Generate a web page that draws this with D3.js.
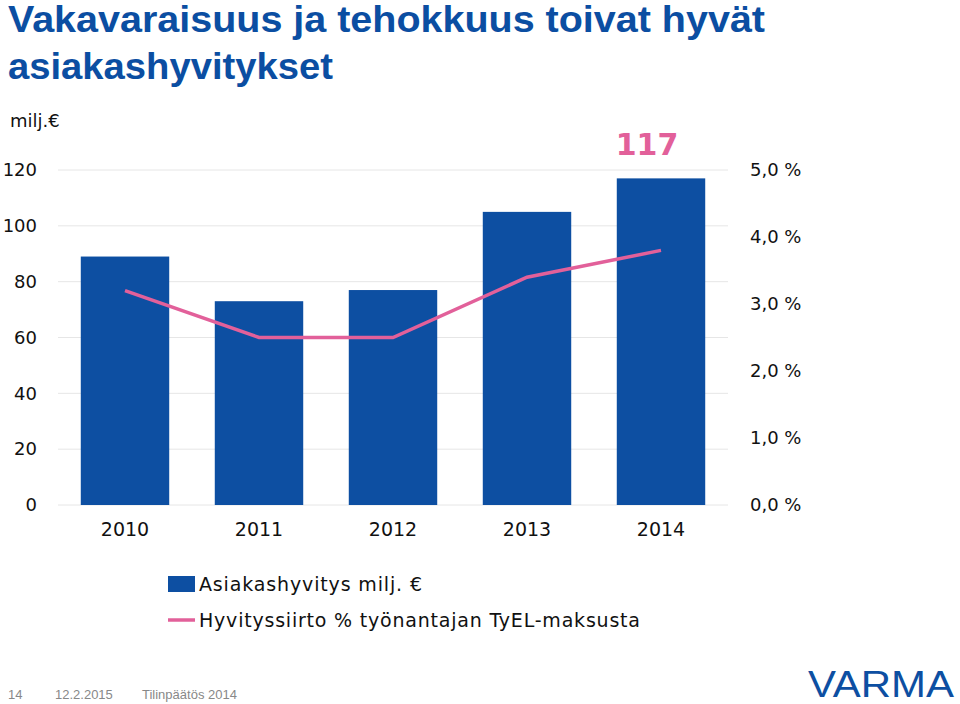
<!DOCTYPE html><html><head><meta charset="utf-8">
<script src="https://cdn.jsdelivr.net/npm/d3@7"></script>
<style>body{margin:0;background:#fff}</style></head><body>
<svg id="c" width="960" height="704"></svg>
<script>
const years=["2010","2011","2012","2013","2014"];
const refunds=[89,73,77,105,117];
const pct=[3.2,2.5,2.5,3.4,3.8];
const leftTicks=[0,20,40,60,80,100,120];
const rightTicks=[0,1,2,3,4,5];
const blue="#0d4fa2",pink="#e2609a",font="DejaVu Sans";
const svg=d3.select("#c");
svg.append("text").attr("x",8).attr("y",32).attr("font-family","Liberation Sans").attr("font-weight","bold").attr("font-size",37).attr("fill","#0b4ea2").attr("textLength",757).attr("lengthAdjust","spacingAndGlyphs").text("Vakavaraisuus ja tehokkuus toivat hyvät");
svg.append("text").attr("x",8).attr("y",79).attr("font-family","Liberation Sans").attr("font-weight","bold").attr("font-size",37).attr("fill","#0b4ea2").attr("textLength",325).attr("lengthAdjust","spacingAndGlyphs").text("asiakashyvitykset");
svg.append("text").attr("x",10).attr("y",127).attr("font-family",font).attr("font-size",18).attr("fill","#111").text("milj.€");
const x=d3.scaleBand().domain(years).range([58,728]).paddingInner(0.34).paddingOuter(0.17);
const y=d3.scaleLinear().domain([0,120]).range([505,170]);
const y2=d3.scaleLinear().domain([0,5]).range([505,170]);
const g=svg.append("g");
g.selectAll("line.grid").data(leftTicks).join("line").attr("x1",58).attr("x2",728).attr("y1",d=>y(d)).attr("y2",d=>y(d)).attr("stroke","#e6e6e6");
const la=svg.append("g").attr("transform","translate(37,0)").call(d3.axisLeft(y).tickValues(leftTicks).tickSize(0).tickPadding(0));
la.select(".domain").remove();
la.selectAll("text").attr("font-family",font).attr("font-size",18).attr("fill","#111");
const ra=svg.append("g").attr("transform","translate(750,0)").call(d3.axisRight(y2).tickValues(rightTicks).tickSize(0).tickPadding(0).tickFormat(d=>d.toFixed(1).replace(".",",")+" %"));
ra.select(".domain").remove();
ra.selectAll("text").attr("font-family",font).attr("font-size",18).attr("fill","#111");
g.selectAll("rect").data(years).join("rect").attr("x",d=>x(d)).attr("width",x.bandwidth()).attr("y",(d,i)=>y(refunds[i])).attr("height",(d,i)=>505-y(refunds[i])).attr("fill",blue);
const xa=svg.append("g").attr("transform","translate(0,522)").call(d3.axisBottom(x).tickSize(0).tickPadding(0));
xa.select(".domain").remove();
xa.selectAll("text").attr("font-family",font).attr("font-size",19).attr("fill","#111").attr("dy","0.71em");
svg.append("path").datum(pct).attr("fill","none").attr("stroke",pink).attr("stroke-width",3.5)
 .attr("d",d3.line().x((d,i)=>x(years[i])+x.bandwidth()/2).y(d=>y2(d)));
svg.append("text").attr("x",x("2014")+x.bandwidth()/2-14).attr("y",155).attr("text-anchor","middle").attr("font-family",font).attr("font-weight","bold").attr("font-size",30).attr("fill",pink).text(refunds[4]);
svg.append("rect").attr("x",168).attr("y",576).attr("width",27).attr("height",16).attr("fill",blue);
svg.append("text").attr("x",199).attr("y",591).attr("font-family",font).attr("font-size",19).attr("fill","#111").attr("textLength",223).text("Asiakashyvitys milj. €");
svg.append("line").attr("x1",168).attr("x2",195).attr("y1",620).attr("y2",620).attr("stroke",pink).attr("stroke-width",3.5);
svg.append("text").attr("x",199).attr("y",627).attr("font-family",font).attr("font-size",19).attr("fill","#111").attr("textLength",441).text("Hyvityssiirto % työnantajan TyEL-maksusta");
const ft=svg.append("g").attr("font-family","Liberation Sans").attr("font-size",13).attr("fill","#888");
ft.append("text").attr("x",8).attr("y",699).text("14");
ft.append("text").attr("x",55).attr("y",699).text("12.2.2015");
ft.append("text").attr("x",142).attr("y",699).text("Tilinpäätös 2014");
svg.append("text").attr("x",808).attr("y",697).attr("font-family","Liberation Sans Narrow, Liberation Sans").attr("font-size",36).attr("fill","#0d4fa2").attr("textLength",146).attr("lengthAdjust","spacingAndGlyphs").text("VARMA");
</script></body></html>
